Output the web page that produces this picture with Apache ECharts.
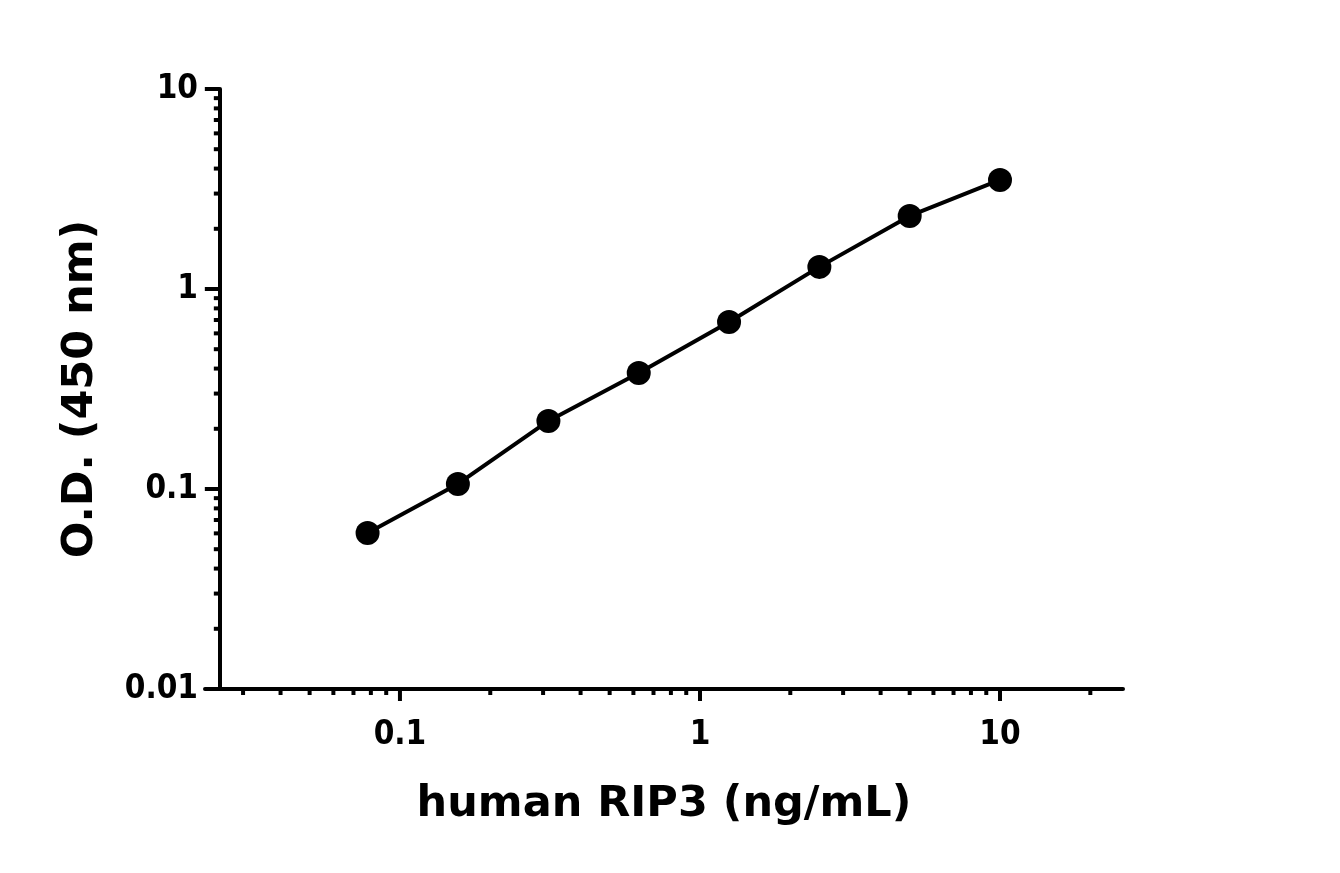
<!DOCTYPE html>
<html><head><meta charset="utf-8">
<script src="https://cdn.jsdelivr.net/npm/echarts@6/dist/echarts.min.js"></script>
<style>html,body{margin:0;background:#fff}#c{width:1340px;height:873px}</style>
</head><body><div id="c"></div>
<script>
const concentrations = [0.078, 0.156, 0.3125, 0.625, 1.25, 2.5, 5, 10];
const odValues = [0.0603, 0.106, 0.219, 0.38, 0.684, 1.29, 2.32, 3.51];
const xMajorTicks = [0.1, 1, 10];
const xMinorTicks = [0.03,0.04,0.05,0.06,0.07,0.08,0.09,0.2,0.3,0.4,0.5,0.6,0.7,0.8,0.9,2,3,4,5,6,7,8,9,20];
const yMajorTicks = [0.01, 0.1, 1, 10];
const yMinorTicks = [0.02,0.03,0.04,0.05,0.06,0.07,0.08,0.09,0.2,0.3,0.4,0.5,0.6,0.7,0.8,0.9,2,3,4,5,6,7,8,9];
const X_MIN = 0.0224, X_MAX = 25.7, Y_AXIS_AT = 0.0251;

const tickData = [];
xMajorTicks.forEach(v => tickData.push([v, 0, 12]));
xMinorTicks.forEach(v => tickData.push([v, 0, 6]));
yMajorTicks.forEach(v => tickData.push([v, 1, 15]));
yMinorTicks.forEach(v => tickData.push([v, 1, 6]));

const fmt = v => { const l = Math.log10(v); return Math.abs(l - Math.round(l)) < 1e-6 ? String(+v.toPrecision(3)) : ''; };
const labelFont = {color: '#000', fontFamily: 'DejaVu Sans Condensed, DejaVu Sans', fontWeight: 'bold', fontSize: 33};
const titleFont = {color: '#000', fontFamily: 'DejaVu Sans', fontWeight: 'bold', fontSize: 43};
const chart = echarts.init(document.getElementById('c'));
chart.setOption({
  animation: false,
  grid: {left: 205, right: 217, top: 89, bottom: 184},
  xAxis: {type: 'log', min: X_MIN, max: X_MAX, logBase: 10,
    axisLine: {lineStyle: {color: '#000', width: 4}}, axisTick: {show: false}, splitLine: {show: false},
    axisLabel: Object.assign({formatter: fmt, showMinLabel: false, showMaxLabel: false, margin: 30}, labelFont),
    name: 'human RIP3 (ng/mL)', nameLocation: 'middle', nameGap: 94, nameTextStyle: titleFont},
  yAxis: {type: 'log', min: 0.01, max: 10, logBase: 10, offset: -15,
    axisLine: {lineStyle: {color: '#000', width: 4}}, axisTick: {show: false}, splitLine: {show: false},
    axisLabel: Object.assign({formatter: fmt, margin: 22}, labelFont),
    name: 'O.D. (450 nm)', nameLocation: 'middle', nameGap: 118, nameTextStyle: titleFont},
  series: [
    {type: 'line', data: concentrations.map((c, i) => [c, odValues[i]]),
      lineStyle: {color: '#000', width: 4}, itemStyle: {color: '#000'}, symbol: 'circle', symbolSize: 24},
    {type: 'custom', clip: false, silent: true, data: tickData,
      renderItem: (params, api) => {
        const v = api.value(0), axis = api.value(1), len = api.value(2);
        if (axis === 0) {
          const p = api.coord([v, 0.01]);
          return {type: 'line', shape: {x1: p[0], y1: p[1], x2: p[0], y2: p[1] + len}, style: {stroke: '#000', lineWidth: 4}};
        }
        const p = api.coord([Y_AXIS_AT, v]);
        return {type: 'line', shape: {x1: p[0], y1: p[1], x2: p[0] - len, y2: p[1]}, style: {stroke: '#000', lineWidth: 4}};
      }}
  ]
});
</script></body></html>
